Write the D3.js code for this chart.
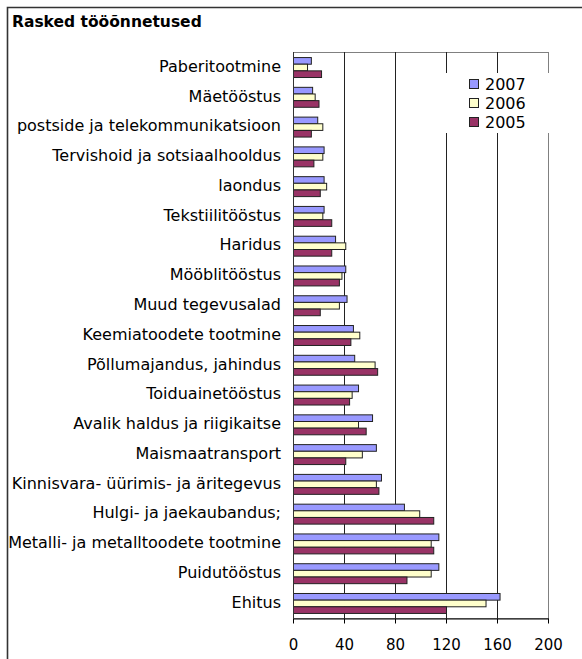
<!DOCTYPE html>
<html>
<head>
<meta charset="utf-8">
<script src="https://cdn.jsdelivr.net/npm/d3@7"></script>
<style>
  body { margin: 0; background: #fff; }
  svg { display: block; font-family: "DejaVu Sans", Verdana, sans-serif; }
</style>
</head>
<body>
<div class="chart"></div>
<script>
var title = "Rasked tööõnnetused";

var categories = [
  "Paberitootmine",
  "Mäetööstus",
  "postside ja telekommunikatsioon",
  "Tervishoid ja sotsiaalhooldus",
  "laondus",
  "Tekstiilitööstus",
  "Haridus",
  "Mööblitööstus",
  "Muud tegevusalad",
  "Keemiatoodete tootmine",
  "Põllumajandus, jahindus",
  "Toiduainetööstus",
  "Avalik haldus ja riigikaitse",
  "Maismaatransport",
  "Kinnisvara- üürimis- ja äritegevus",
  "Hulgi- ja jaekaubandus;",
  "Metalli- ja metalltoodete tootmine",
  "Puidutööstus",
  "Ehitus"
];

var years = ["2007", "2006", "2005"];

var values2007 = [14, 15, 19, 24, 24, 24, 33, 41, 42, 47, 48, 51, 62, 65, 69, 87, 114, 114, 162];
var values2006 = [11, 17, 23, 23, 26, 23, 41, 38, 36, 52, 64, 46, 51, 54, 65, 99, 108, 108, 151];
var values2005 = [22, 20, 14, 16, 21, 30, 30, 36, 21, 45, 66, 44, 57, 41, 67, 110, 110, 89, 120];

var xTicks = [0, 40, 80, 120, 160, 200];

var colors = {"2007": "#9999ff", "2006": "#ffffcc", "2005": "#993366"};

var series = {"2007": values2007, "2006": values2006, "2005": values2005};

var width = 582,
    height = 659;

var margin = {top: 52, right: 34, bottom: 41, left: 293};

var svg = d3.select(".chart").append("svg")
    .attr("width", width)
    .attr("height", height);

// outer frame (only top and left edges show)
svg.append("path")
    .attr("d", "M7.5," + (height + 5) + "V7.5H" + (width + 5))
    .attr("fill", "none")
    .attr("stroke", "#333")
    .attr("stroke-width", 1.6);

svg.append("text")
    .attr("x", 12)
    .attr("y", 27)
    .attr("font-size", "15.5px")
    .attr("font-weight", "bold")
    .attr("fill", "#000")
    .text(title);

var x = d3.scaleLinear()
    .domain([0, 200])
    .range([margin.left, width - margin.right]);

var y = d3.scaleBand()
    .domain(categories)
    .range([margin.top, height - margin.bottom])
    .paddingInner(0.33)
    .paddingOuter(0.17);

var ySub = d3.scaleBand()
    .domain(years)
    .range([0, y.bandwidth()]);

var plotBottom = height - margin.bottom;

// plot frame
svg.append("rect")
    .attr("x", margin.left + 0.5)
    .attr("y", margin.top + 0.5)
    .attr("width", x(200) - x(0))
    .attr("height", plotBottom - margin.top)
    .attr("fill", "#fff")
    .attr("stroke", "#808080");

// gridlines
svg.append("g")
    .attr("class", "grid")
    .attr("transform", "translate(0," + plotBottom + ")")
    .call(d3.axisBottom(x).tickValues(xTicks.slice(1, -1)).tickSize(-(plotBottom - margin.top)).tickFormat(""))
    .call(function(g) {
      g.select(".domain").remove();
      g.selectAll(".tick line").attr("stroke", "#222");
    });

// bars
var groups = svg.append("g")
    .selectAll("g")
    .data(categories)
    .enter()
    .append("g")
    .attr("transform", function(d) { return "translate(0," + y(d) + ")"; });

groups.selectAll("rect")
    .data(function(d, i) {
      return years.map(function(yr) { return {year: yr, value: series[yr][i]}; });
    })
    .enter()
    .append("rect")
    .attr("x", x(0) + 0.5)
    .attr("y", function(d) { return ySub(d.year) + 0.5; })
    .attr("width", function(d) { return x(d.value) - x(0); })
    .attr("height", ySub.bandwidth())
    .attr("fill", function(d) { return colors[d.year]; })
    .attr("stroke", "#222")
    .attr("stroke-width", 1);

// category labels
svg.append("clipPath").attr("id", "labelclip")
    .append("rect")
    .attr("x", 0)
    .attr("y", 0)
    .attr("width", margin.left - 9)
    .attr("height", height);

svg.append("g")
    .attr("clip-path", "url(#labelclip)")
    .selectAll("text")
    .data(categories)
    .enter()
    .append("text")
    .attr("x", margin.left - 12)
    .attr("y", function(d) { return y(d) + y.bandwidth() / 2; })
    .attr("dy", "0.3em")
    .attr("text-anchor", "end")
    .attr("font-size", "16px")
    .attr("fill", "#000")
    .text(function(d) { return d; });

// left axis line
svg.append("line")
    .attr("x1", x(0) + 0.5)
    .attr("x2", x(0) + 0.5)
    .attr("y1", margin.top)
    .attr("y2", plotBottom)
    .attr("stroke", "#333");

// x axis
svg.append("g")
    .attr("transform", "translate(0," + (plotBottom + 0.5) + ")")
    .call(d3.axisBottom(x).tickValues(xTicks).tickSize(5).tickPadding(16).tickSizeOuter(0))
    .call(function(g) {
      g.select(".domain").attr("stroke", "#000");
      g.selectAll(".tick line").attr("stroke", "#000");
      g.selectAll(".tick text")
          .attr("font-size", "15px")
          .attr("font-family", "DejaVu Sans, Verdana, sans-serif")
          .attr("fill", "#000");
    });

// legend
var legend = svg.append("g")
    .attr("transform", "translate(446,73)");

legend.append("rect")
    .attr("width", 103)
    .attr("height", 60)
    .attr("fill", "#fff");

var items = legend.selectAll("g")
    .data(years)
    .enter()
    .append("g")
    .attr("transform", function(d, i) { return "translate(23," + (11 + i * 19) + ")"; });

items.append("rect")
    .attr("x", 0.5)
    .attr("y", -4.5)
    .attr("width", 9)
    .attr("height", 9)
    .attr("fill", function(d) { return colors[d]; })
    .attr("stroke", "#222");

items.append("text")
    .attr("x", 16)
    .attr("dy", "0.36em")
    .attr("font-size", "16px")
    .attr("fill", "#000")
    .text(function(d) { return d; });
</script>
</body>
</html>
